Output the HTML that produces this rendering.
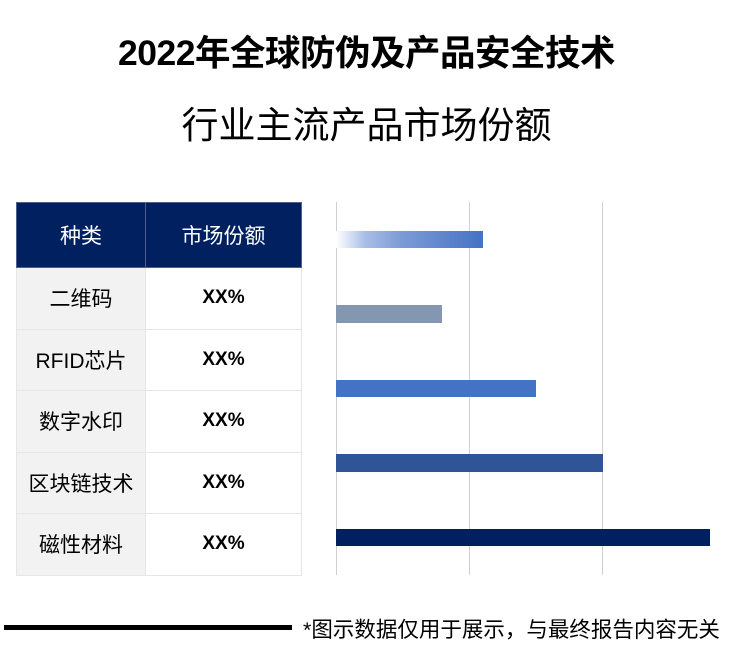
<!DOCTYPE html>
<html><head><meta charset="utf-8"><style>
body{margin:0;width:733px;height:657px;background:#fff;position:relative;font-family:"Liberation Sans","Noto Sans CJK SC",sans-serif;overflow:hidden}
.t{position:absolute;left:0;width:733px;text-align:center;color:#000;white-space:nowrap}
table{position:absolute;left:16px;top:202px;border-collapse:collapse;width:286px}
td{height:60.5px;border:1px solid #e6e6e6;text-align:center;font-size:21px;padding:0}
td.a{width:128px;background:#f2f2f2}
td.b{font-weight:bold;font-size:19px}
th{height:62px;background:#002060;color:#fff;font-size:21px;font-weight:normal;border:1px solid #50608a}
.g{position:absolute;top:202px;height:373px;width:1px;background:#d0d0d0}
.bar{position:absolute;left:336px;height:17px}
</style></head><body>
<div class="t" style="top:25px;font-size:35.5px;font-weight:bold;letter-spacing:-0.5px">2022年全球防伪及产品安全技术</div>
<div class="t" style="top:95px;font-size:37px">行业主流产品市场份额</div>
<table>
<tr><th>种类</th><th>市场份额</th></tr>
<tr><td class="a">二维码</td><td class="b">XX%</td></tr>
<tr><td class="a">RFID芯片</td><td class="b">XX%</td></tr>
<tr><td class="a">数字水印</td><td class="b">XX%</td></tr>
<tr><td class="a">区块链技术</td><td class="b">XX%</td></tr>
<tr><td class="a">磁性材料</td><td class="b">XX%</td></tr>
</table>
<div class="g" style="left:336px"></div>
<div class="g" style="left:469px"></div>
<div class="g" style="left:602px"></div>
<div class="bar" style="top:231px;width:147px;background:linear-gradient(90deg,#fff 0%,#a8bde6 20%,#7b9bd6 45%,#4472c4 100%)"></div>
<div class="bar" style="top:305px;width:106px;height:18px;background:#8497b0"></div>
<div class="bar" style="top:380px;width:200px;background:#4472c4"></div>
<div class="bar" style="top:454px;width:267px;height:18px;background:#2f5597"></div>
<div class="bar" style="top:529px;width:374px;background:#002060"></div>
<div style="position:absolute;left:4px;top:625px;width:288px;height:5px;background:#000"></div>
<div style="position:absolute;left:303px;top:613px;font-size:21.5px;color:#000;white-space:nowrap">*图示数据仅用于展示，与最终报告内容无关</div>
</body></html>
